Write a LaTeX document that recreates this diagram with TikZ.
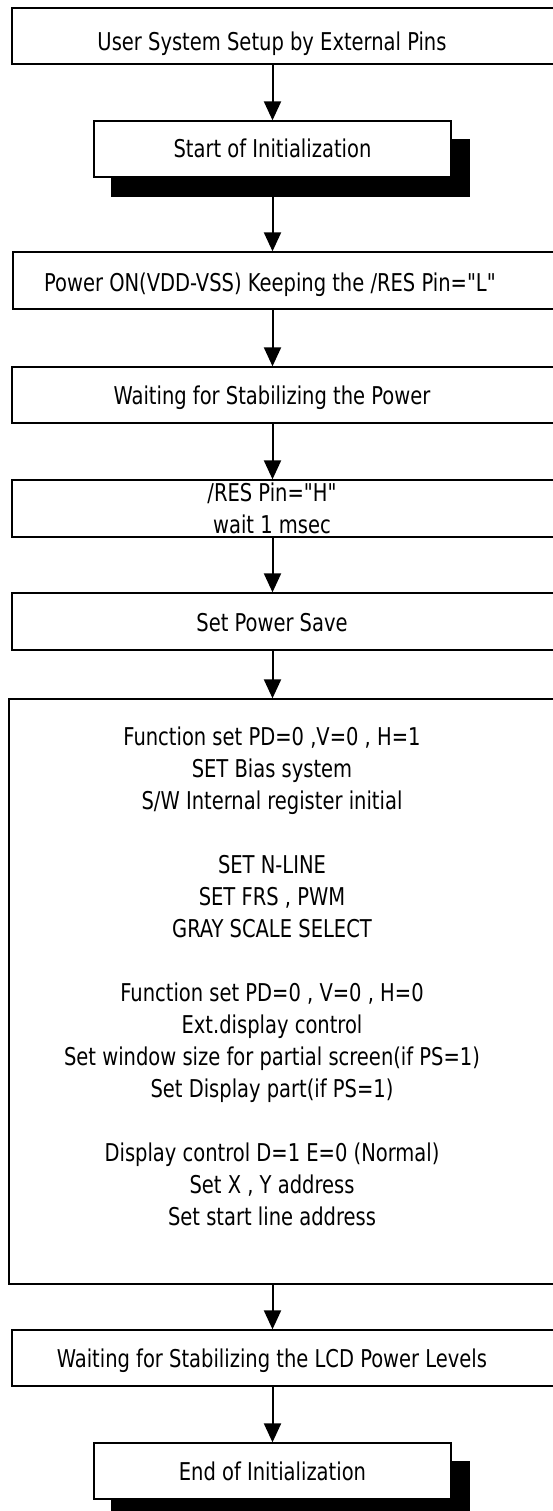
\documentclass[tikz,border=0pt]{standalone}
\usepackage{fontspec}
\newfontfamily\dvc{DejaVu Sans Condensed}[FakeStretch=0.885]
\usetikzlibrary{arrows.meta}
\begin{document}
\begin{tikzpicture}[x=1pt,y=-1pt,
  box/.style={draw=black,line width=1.3pt,fill=white,inner sep=0pt},
  shadowbox/.style={fill=black,draw=none,inner sep=0pt},
  lbl/.style={inner sep=0pt,align=center,font=\dvc\fontsize{24.5}{32}\selectfont},
  arr/.style={line width=2pt,-{Triangle[width=17pt,length=19pt]}}]
\useasboundingbox (0,0) rectangle (553,1511);
\clip (0,0) rectangle (553,1511);
% box 1
\node[box,minimum width=548pt,minimum height=56pt] (b1) at (286,36) {};
\node[lbl,anchor=base] (t1) at (272,51) {User System Setup by External Pins};
% box 2 start
\node[shadowbox,minimum width=359pt,minimum height=58pt] (s2) at (290.5,168) {};
\node[box,minimum width=357pt,minimum height=56pt] (b2) at (272.5,149) {};
\node[lbl,anchor=base] (t2) at (272.5,157.5) {Start of Initialization};
% box 3
\node[box,minimum width=547pt,minimum height=57pt] (b3) at (286.5,280.5) {};
\node[lbl,anchor=base] (t3) at (270,292) {Power ON(VDD-VSS) Keeping the /RES Pin="L"};
% box 4
\node[box,minimum width=548pt,minimum height=56pt] (b4) at (286,395) {};
\node[lbl,anchor=base] (t4) at (272,404) {Waiting for Stabilizing the Power};
% box 5
\node[box,minimum width=548pt,minimum height=57pt] (b5) at (286,508.5) {};
\node[lbl] (t5) at (272,508) {/RES Pin="H"\\wait 1 msec};
% box 6
\node[box,minimum width=548pt,minimum height=57pt] (b6) at (286,621.5) {};
\node[lbl,anchor=base] (t6) at (272,631) {Set Power Save};
% box 7 big
\node[box,minimum width=551pt,minimum height=585pt] (b7) at (284.5,991.5) {};
\node[lbl] (t7) at (272,976) {Function set PD=0 ,V=0 , H=1\\SET Bias system\\S/W Internal register initial\\[32pt]SET N-LINE\\SET FRS , PWM\\GRAY SCALE SELECT\\[32pt]Function set PD=0 , V=0 , H=0\\Ext.display control\\Set window size for partial screen(if PS=1)\\Set Display part(if PS=1)\\[32pt]Display control D=1 E=0 (Normal)\\Set X , Y address\\Set start line address};
% box 8
\node[box,minimum width=548pt,minimum height=56pt] (b8) at (286,1358) {};
\node[lbl,anchor=base] (t8) at (272,1367) {Waiting for Stabilizing the LCD Power Levels};
% box 9 end
\node[shadowbox,minimum width=359pt,minimum height=58pt] (s9) at (290.5,1490) {};
\node[box,minimum width=357pt,minimum height=56pt] (b9) at (272.5,1471) {};
\node[lbl,anchor=base] (t9) at (272.5,1480) {End of Initialization};
% arrows
\draw[arr] (b1.south -| b2.north) -- (b2.north);
\draw[arr] (b2.south) -- (b3.north -| b2.south);
\draw[arr] (b3.south -| b2.south) -- (b4.north -| b2.south);
\draw[arr] (b4.south -| b2.south) -- (b5.north -| b2.south);
\draw[arr] (b5.south -| b2.south) -- (b6.north -| b2.south);
\draw[arr] (b6.south -| b2.south) -- (b7.north -| b2.south);
\draw[arr] (b7.south -| b2.south) -- (b8.north -| b2.south);
\draw[arr] (b8.south -| b9.north) -- (b9.north);
\end{tikzpicture}
\end{document}
